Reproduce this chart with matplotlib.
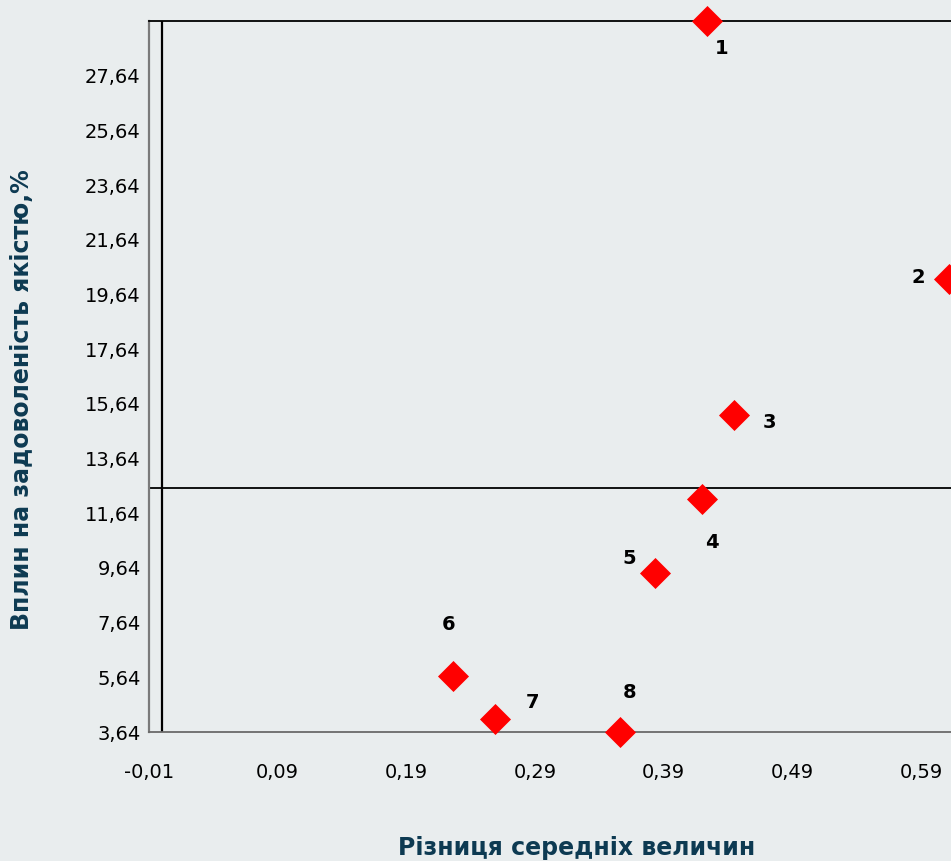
import matplotlib
matplotlib.use("Agg")
import matplotlib.pyplot as plt
from matplotlib.ticker import FixedLocator, FuncFormatter

# Data
labels = ["1", "2", "3", "4", "5", "6", "7", "8"]
x_vals = [0.424, 0.612, 0.445, 0.420, 0.383, 0.226, 0.259, 0.356]
y_vals = [29.64, 20.20, 15.23, 12.15, 9.44, 5.70, 4.12, 3.65]
x_ticks = [-0.01, 0.09, 0.19, 0.29, 0.39, 0.49, 0.59]
y_ticks = [3.64, 5.64, 7.64, 9.64, 11.64, 13.64, 15.64, 17.64, 19.64, 21.64, 23.64, 25.64, 27.64]
x_ref = 0.0
y_ref = 12.55
# label offsets in points
offsets = [(10, -20), (-22, 1), (25, -5), (7, -31), (-18, 11), (-3, 37), (27, 12), (7, 28)]

bg = "#E9EDEE"
title_color = "#0D3A52"

fig = plt.figure(figsize=(9.51, 8.61), dpi=100, facecolor=bg)
ax = fig.add_axes([149/951, 1 - 732/861, (951 - 149)/951, (732 - 21)/861])
ax.set_facecolor(bg)

ax.set_xlim(-0.01, 0.6133)
ax.set_ylim(3.64, 29.64)

ax.axvline(x_ref, color="black", lw=1.6, zorder=2)
ax.axhline(y_ref, color="black", lw=1.3, zorder=2)

ax.scatter(x_vals, y_vals, marker="D", s=250, color="#FF0000", zorder=5, clip_on=False, linewidths=0)

for lab, x, y, (dx, dy) in zip(labels, x_vals, y_vals, offsets):
    ax.annotate(lab, (x, y), xytext=(dx, dy), textcoords="offset points",
                ha="center", va="center", fontsize=14, fontweight="bold", color="black",
                annotation_clip=False)

ax.xaxis.set_major_locator(FixedLocator(x_ticks))
ax.yaxis.set_major_locator(FixedLocator(y_ticks))
fmt = FuncFormatter(lambda v, p: f"{v:.2f}".replace(".", ","))
ax.xaxis.set_major_formatter(fmt)
ax.yaxis.set_major_formatter(fmt)
ax.tick_params(axis="both", length=0, labelsize=14, colors="black")
ax.tick_params(axis="x", pad=22)
ax.tick_params(axis="y", pad=6)

ax.spines["left"].set_color("#7A7A7A")
ax.spines["left"].set_linewidth(1.6)
ax.spines["bottom"].set_color("#6A6A6A")
ax.spines["bottom"].set_linewidth(1.3)
ax.spines["top"].set_color("black")
ax.spines["top"].set_linewidth(1.3)
ax.spines["right"].set_visible(False)

fig.text(577/951, 1 - 848/861, "Різниця середніх величин", ha="center", va="center",
         fontsize=17, fontweight="bold", color=title_color)
fig.text(22/951, 1 - 400/861, "Вплин на задоволеність якістю,%", ha="center", va="center",
         rotation=90, fontsize=17, fontweight="bold", color=title_color)

fig.savefig("out.png", dpi=100, facecolor=bg)
